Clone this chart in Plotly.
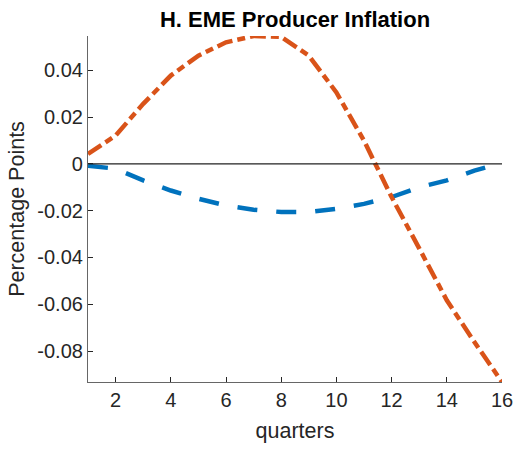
import plotly.graph_objects as go

# Impulse responses over 16 quarters
quarters = list(range(1, 17))
resp_orange = [0.0042, 0.0121, 0.0256, 0.0377, 0.0462, 0.0519, 0.0546, 0.0542,
               0.0462, 0.0305, 0.0099, -0.0142, -0.0361, -0.0583, -0.0761, -0.0932]
resp_blue = [-0.0008, -0.0021, -0.0071, -0.0114, -0.0149, -0.0178, -0.0196, -0.0206,
             -0.0206, -0.0192, -0.0171, -0.0142, -0.0100, -0.0071, -0.0029, 0.0004]

y_ticks = [-0.08, -0.06, -0.04, -0.02, 0, 0.02, 0.04]
y_tick_text = ["-0.08", "-0.06", "-0.04", "-0.02", "0", "0.02", "0.04"]
x_ticks = [2, 4, 6, 8, 10, 12, 14, 16]

ORANGE = "#D95319"
BLUE = "#0072BD"
FONT = "Liberation Sans, Arial, sans-serif"
AXIS_COLOR = "#262626"

fig = go.Figure()
fig.add_trace(go.Scatter(
    x=quarters, y=resp_blue, mode="lines",
    line=dict(color=BLUE, width=4.5, dash="20px,19px"),
    showlegend=False,
))
fig.add_trace(go.Scatter(
    x=quarters, y=resp_orange, mode="lines",
    line=dict(color=ORANGE, width=4.5, dash="16px,5px,8px,5px"),
    showlegend=False,
))

# horizontal reference line at zero
fig.add_shape(type="line", xref="paper", x0=0, x1=1, yref="y", y0=0, y1=0,
              line=dict(color="#222222", width=1.2), layer="above")

all_vals = resp_orange + resp_blue
fig.update_layout(
    width=514, height=449,
    margin=dict(l=88, r=12, t=36, b=67, autoexpand=False),
    paper_bgcolor="white", plot_bgcolor="white",
    font=dict(family=FONT, color=AXIS_COLOR, size=20),
    title=dict(text="<b>H. EME Producer Inflation</b>", x=0.574, xanchor="center",
               y=0.975, yanchor="top", font=dict(size=22, color="#000000")),
    xaxis=dict(
        range=[min(quarters), max(quarters)], tickvals=x_ticks,
        ticks="inside", ticklen=5, tickcolor=AXIS_COLOR,
        showline=True, linecolor="#666666", linewidth=1.2,
        showgrid=False, zeroline=False, automargin=False,
        title=dict(text="quarters", font=dict(size=21.5), standoff=12),
        tickfont=dict(size=20),
    ),
    yaxis=dict(
        range=[min(all_vals), max(all_vals)], tickvals=y_ticks, ticktext=y_tick_text,
        ticks="inside", ticklen=5, tickcolor=AXIS_COLOR,
        showline=True, linecolor="#666666", linewidth=1.2,
        showgrid=False, zeroline=False, automargin=False,
        title=dict(text="Percentage Points", font=dict(size=21.5), standoff=6),
        tickfont=dict(size=20),
    ),
)

fig.write_html("out.html")
